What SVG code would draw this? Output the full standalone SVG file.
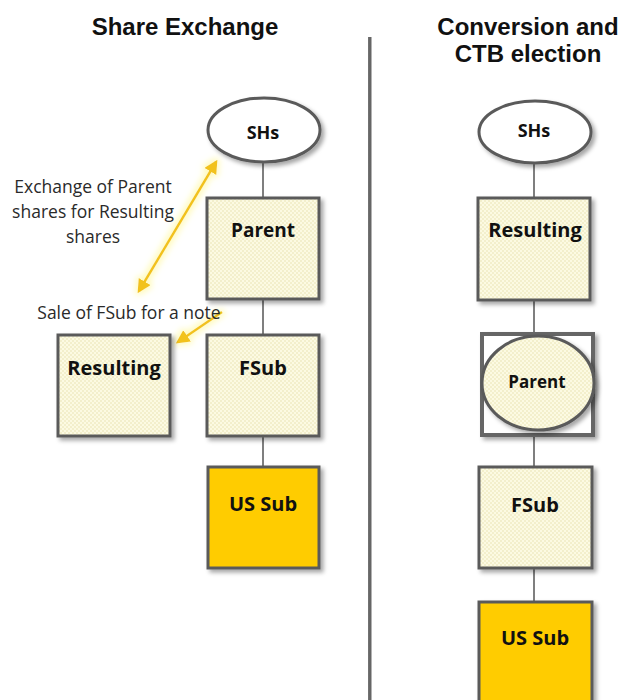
<svg xmlns="http://www.w3.org/2000/svg" width="623" height="700" viewBox="0 0 623 700">
<defs>
<pattern id="dots" width="4" height="4" patternUnits="userSpaceOnUse">
<rect width="4" height="4" fill="#fcfae2"/>
<circle cx="1" cy="1" r="0.7" fill="#e3dca6"/>
<circle cx="3" cy="3" r="0.7" fill="#e3dca6"/>
</pattern>
<filter id="sh" x="-20%" y="-20%" width="140%" height="140%">
<feDropShadow dx="3" dy="3" stdDeviation="2" flood-color="#000" flood-opacity="0.35"/>
</filter>
<filter id="glow" x="-40%" y="-40%" width="180%" height="180%">
<feMorphology in="SourceGraphic" operator="dilate" radius="1.5" result="d"/>
<feGaussianBlur in="d" stdDeviation="3" result="b"/>
<feColorMatrix in="b" type="matrix" values="0 0 0 0 1  0 0 0 0 0.95  0 0 0 0 0.4  0 0 0 0.8 0" result="c"/>
<feMerge><feMergeNode in="c"/><feMergeNode in="SourceGraphic"/></feMerge>
</filter>
<marker id="ah" viewBox="0 0 10 10" refX="8" refY="5" markerWidth="5.5" markerHeight="5.5" orient="auto-start-reverse" markerUnits="strokeWidth">
<path d="M0,0 L10,5 L0,10 z" fill="#f2c21b"/>
</marker>
<linearGradient id="div" x1="0" y1="0" x2="1" y2="0">
<stop offset="0" stop-color="#777"/>
<stop offset="0.6" stop-color="#5e5e5e"/>
<stop offset="1" stop-color="#d8d8d8"/>
</linearGradient>
</defs>
<style>
.box{fill:url(#dots);stroke:#5a5a5a;stroke-width:3;filter:url(#sh)}
.gold{fill:#ffcc00;stroke:#5a5a5a;stroke-width:3;filter:url(#sh)}
.ell{fill:#ffffff;stroke:#5a5a5a;stroke-width:3;filter:url(#sh)}
.lbl{font-family:"Open Sans","Noto Sans",sans-serif;font-weight:bold;fill:#111;text-anchor:middle}
.note{font-family:"Open Sans","Noto Sans",sans-serif;font-size:17.5px;fill:#2a2a2a;text-anchor:middle}
.title{font-family:"Liberation Sans",Arial,sans-serif;font-weight:bold;font-size:24px;fill:#111;text-anchor:middle}
.con{stroke:#555;stroke-width:1.5;fill:none}
.ya{stroke:#f2c21b;stroke-width:2.5;fill:none;filter:url(#glow)}
</style>
<rect width="623" height="700" fill="#ffffff"/>
<g id="titles">
<text class="title" x="185" y="35">Share Exchange</text>
<text class="title" x="528" y="35">Conversion and</text>
<text class="title" x="528" y="62">CTB election</text>
</g>
<rect id="divider" x="368" y="37" width="4" height="663" fill="url(#div)"/>
<g id="connectors">
<line class="con" x1="263" y1="162" x2="263" y2="198"/>
<line class="con" x1="263" y1="299" x2="263" y2="335"/>
<line class="con" x1="263" y1="436" x2="263" y2="467"/>
<line class="con" x1="534" y1="163" x2="534" y2="198"/>
<line class="con" x1="534" y1="300" x2="534" y2="333"/>
<line class="con" x1="534" y1="435" x2="534" y2="467"/>
<line class="con" x1="534" y1="568" x2="534" y2="602"/>
<line class="ya" x1="216" y1="162" x2="139" y2="291" marker-start="url(#ah)" marker-end="url(#ah)"/>
<line class="ya" x1="222" y1="312" x2="178" y2="342" marker-end="url(#ah)"/>
</g>
<g id="labels">
<text class="note" x="93" y="193">Exchange of Parent</text>
<text class="note" x="93" y="218">shares for Resulting</text>
<text class="note" x="93" y="243">shares</text>
<text class="note" x="129" y="319">Sale of FSub for a note</text>
</g>
<g id="L-SHs">
<ellipse class="ell" cx="264" cy="130" rx="56" ry="32"/>
<text class="lbl" x="263" y="139" font-size="18">SHs</text>
</g>
<g id="L-Parent">
<rect class="box" x="207" y="198" width="112" height="101"/>
<text class="lbl" x="263" y="237" font-size="19">Parent</text>
</g>
<g id="L-Resulting">
<rect class="box" x="58" y="335" width="112" height="101"/>
<text class="lbl" x="114" y="375" font-size="20">Resulting</text>
</g>
<g id="L-FSub">
<rect class="box" x="207" y="335" width="112" height="101"/>
<text class="lbl" x="263" y="375" font-size="20">FSub</text>
</g>
<g id="L-USSub">
<rect class="gold" x="208" y="467" width="111" height="101"/>
<text class="lbl" x="263" y="511" font-size="20">US Sub</text>
</g>
<g id="R-SHs">
<ellipse class="ell" cx="535" cy="132" rx="56" ry="31"/>
<text class="lbl" x="534" y="137" font-size="18">SHs</text>
</g>
<g id="R-Resulting">
<rect class="box" x="478" y="198" width="112" height="102"/>
<text class="lbl" x="535" y="237" font-size="20">Resulting</text>
</g>
<g id="R-Parent">
<rect x="482" y="334" width="111" height="101" fill="#ffffff" stroke="#666" stroke-width="4" filter="url(#sh)"/>
<ellipse class="box" cx="538" cy="383" rx="56" ry="47"/>
<text class="lbl" x="537" y="388" font-size="17">Parent</text>
</g>
<g id="R-FSub">
<rect class="box" x="479" y="467" width="113" height="101"/>
<text class="lbl" x="535" y="512" font-size="20">FSub</text>
</g>
<g id="R-USSub">
<rect class="gold" x="479" y="602" width="113" height="102"/>
<text class="lbl" x="535" y="645" font-size="20">US Sub</text>
</g>
</svg>
